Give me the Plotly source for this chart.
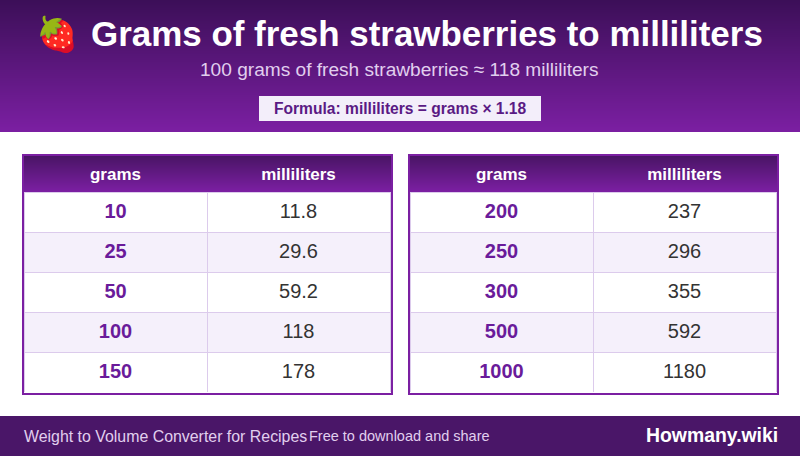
import plotly.graph_objects as go

TITLE = "Grams of fresh strawberries to milliliters"
SUBTITLE = "100 grams of fresh strawberries ≈ 118 milliliters"
FORMULA = "Formula: milliliters = grams × 1.18"
FOOT_L = "Weight to Volume Converter for Recipes"
FOOT_M = "Free to download and share"
FOOT_R = "Howmany.wiki"
COLS = ["grams", "milliliters"]
grams_left = ["10", "25", "50", "100", "150"]
ml_left = ["11.8", "29.6", "59.2", "118", "178"]
grams_right = ["200", "250", "300", "500", "1000"]
ml_right = ["237", "296", "355", "592", "1180"]

W, H = 800, 456
FONT = "Liberation Sans"
DARK = (60, 15, 88)
MID = (74, 21, 102)
LIGHT = (123, 31, 162)
ACCENT = "#7b1fa2"


def mix(a, b, t):
    return "rgb(%d,%d,%d)" % tuple(round(a[i] + (b[i] - a[i]) * t) for i in range(3))


def rect(x0, y0, x1, y1, fill):
    return dict(type="rect", xref="x", yref="y", x0=x0, x1=x1, y0=y0, y1=y1,
                fillcolor=fill, line=dict(width=0), layer="below")


def text(x, y, s, size, color, bold=False, anchor="center"):
    return dict(xref="x", yref="y", x=x, y=y, text="<b>%s</b>" % s if bold else s,
                showarrow=False, xanchor=anchor, yanchor="middle",
                font=dict(family=FONT, size=size, color=color))


shapes = []
for y in range(132):
    shapes.append(rect(0, y, W, y + 1, mix(DARK, LIGHT, y / 131)))
shapes.append(rect(259, 96, 541, 121, "#f3eefa"))
shapes.append(rect(0, 416, W, 456, "#4a1668"))
for x0, x1 in ((22, 393), (408, 779)):
    shapes.append(rect(x0, 154, x1, 395, ACCENT))
    shapes.append(rect(x0 + 2, 192, x1 - 2, 393, "white"))
    for y in range(156, 192):
        shapes.append(rect(x0 + 2, y, x1 - 2, y + 1, mix(MID, LIGHT, (y - 156) / 35)))

fig = go.Figure()
fig.add_trace(go.Scatter(x=[0, W], y=[0, H], mode="markers", marker=dict(opacity=0),
                         hoverinfo="skip", showlegend=False))


def table(x0, x1, g, m):
    fig.add_trace(go.Table(
        domain=dict(x=[(x0 + 2) / W, (x1 - 3) / W], y=[1 - 393 / H, 1 - 157 / H]),
        columnwidth=[183, 183],
        header=dict(values=["<b>%s</b>" % c for c in COLS], height=35,
                    fill_color="rgba(0,0,0,0)", line=dict(color="rgba(0,0,0,0)", width=0),
                    align="center", font=dict(family=FONT, size=17, color="white")),
        cells=dict(values=[["<b>%s</b>" % v for v in g], ["<span>%s</span>" % v for v in m]],
                   height=40,
                   fill_color=[["white", "#f5f0fb", "white", "#f5f0fb", "white"]] * 2,
                   line=dict(color="#dccbec", width=1), align="center",
                   font=dict(family=FONT, size=20, color=["#6a1b9a", "#333333"])),
    ))


table(22, 393, grams_left, ml_left)
table(408, 779, grams_right, ml_right)

annotations = [
    text(57, 34, "🍓", 34, "white"),
    text(427, 33.5, TITLE, 34.95, "white", True),
    text(399, 69.5, SUBTITLE, 19.1, "#e1cfee"),
    text(400, 108, FORMULA, 15.6, "#5a1a84", True),
    text(22, 436, FOOT_L, 15.9, "#e1cfee", anchor="left"),
    text(307, 436, FOOT_M, 14.5, "#e1cfee", anchor="left"),
    text(780, 435, FOOT_R, 19.4, "white", True, anchor="right"),
]

fig.update_layout(
    width=W, height=H, margin=dict(l=0, r=0, t=0, b=0, pad=0),
    paper_bgcolor="white", plot_bgcolor="white", showlegend=False,
    xaxis=dict(range=[0, W], visible=False, fixedrange=True),
    yaxis=dict(range=[H, 0], visible=False, fixedrange=True),
    shapes=shapes, annotations=annotations,
)
fig.write_html("out.html", config=dict(displayModeBar=False),
               post_script="document.body.style.margin='0';document.documentElement.style.overflow='hidden';")
